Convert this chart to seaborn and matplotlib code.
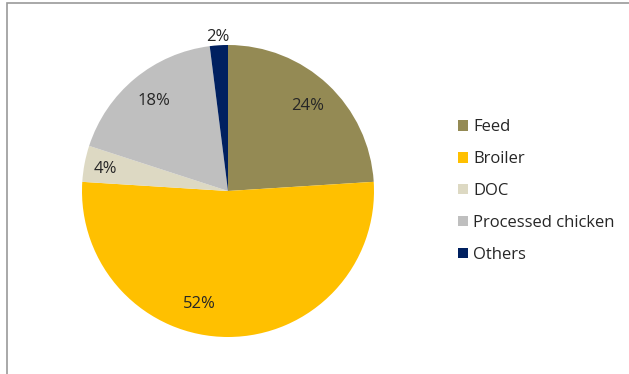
import matplotlib
matplotlib.use("Agg")
import matplotlib.pyplot as plt
import seaborn as sns
import numpy as np
from matplotlib.patches import Rectangle

categories = ["Feed", "Broiler", "DOC", "Processed chicken", "Others"]
values = [24, 52, 4, 18, 2]
colors = ["#948A54", "#FFC000", "#DDD9C3", "#BFBFBF", "#002060"]

sns.set_theme(style="white")
plt.rcParams['font.family'] = ['Open Sans', 'DejaVu Sans']

fig = plt.figure(figsize=(6.29, 3.74), dpi=100)
ax = fig.add_axes([82/629, 37/374, 292/629, 292/374])

wedges, texts, autotexts = ax.pie(
    values, colors=sns.color_palette(colors), startangle=90, counterclock=False,
    autopct=lambda p: f"{p:.0f}%", pctdistance=0.8,
    wedgeprops=dict(linewidth=0), textprops=dict(fontsize=12, color="#262626"))
ax.set_xlim(-1, 1)
ax.set_ylim(-1, 1)
ax.set_aspect("equal")

# Excel-like label placement adjustments
autotexts[4].set_position((np.cos(np.radians(93.6)) * 1.06, np.sin(np.radians(93.6)) * 1.06))
autotexts[2].set_position((np.cos(np.radians(170)) * 0.85, np.sin(np.radians(170)) * 0.85))
autotexts[1].set_position((np.cos(np.radians(-104)) * 0.8, np.sin(np.radians(-104)) * 0.8))

leg = fig.legend(wedges, categories, loc="center left",
                 bbox_to_anchor=(443/629, 1 - 191/374), frameon=False,
                 fontsize=12, handlelength=0.6, handleheight=0.6,
                 handletextpad=0.3, labelspacing=0.95)
for t in leg.get_texts():
    t.set_color("#262626")

# chart border
fig.patches.append(Rectangle((7/629, -0.05), 1.2, (371/374) + 0.05, transform=fig.transFigure,
                             fill=False, edgecolor="#9a9a9a", linewidth=1.2, figure=fig))

fig.savefig("out.png", dpi=100)
